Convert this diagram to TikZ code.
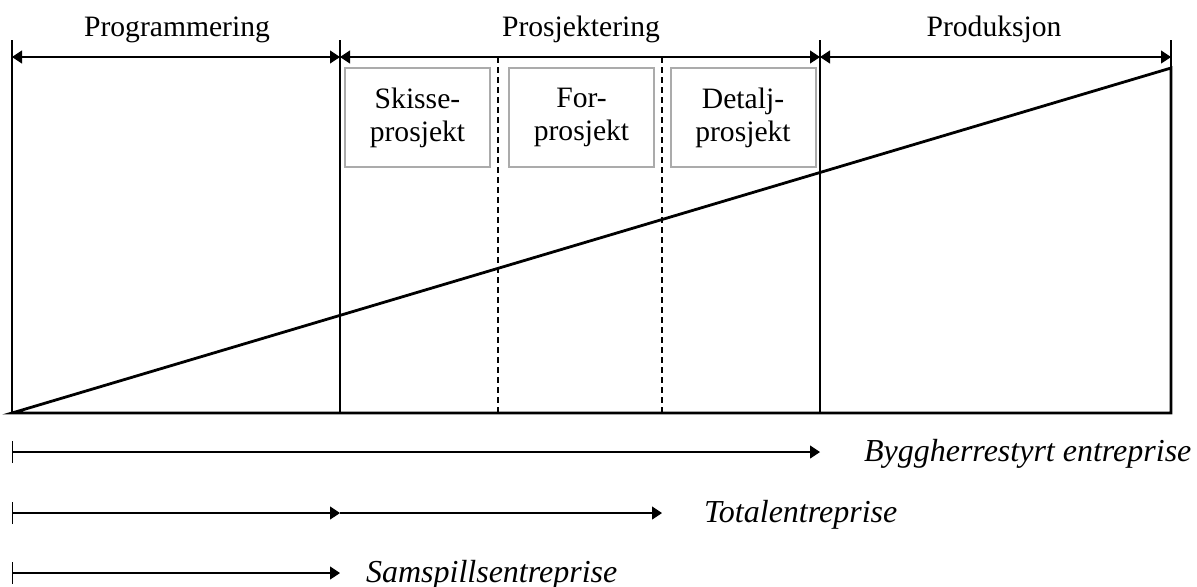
\documentclass[tikz,border=0pt]{standalone}
\usepackage{fontspec}
\setmainfont{Liberation Serif}
\usetikzlibrary{arrows.meta,positioning}
\definecolor{ink}{HTML}{000000}
\definecolor{boxgray}{HTML}{ABABAB}

\begin{document}
\begin{tikzpicture}[
  x=0.5pt, y=-0.5pt,
  font=\fontsize{14.8}{16.5}\selectfont,
  thin line/.style={draw=ink, line width=0.55pt},
  bold line/.style={draw=ink, line width=1.4pt, line join=miter},
  span/.style={thin line, {Triangle[length=5pt,width=6.5pt]}-{Triangle[length=5pt,width=6.5pt]}},
  route/.style={thin line, {Bar[width=11pt]}-{Triangle[length=5pt,width=6.5pt]}},
  phase/.style={draw=boxgray, line width=1pt, minimum width=72.5pt, minimum height=49.5pt,
    align=center, inner sep=0pt},
  heading/.style={anchor=base},
  model/.style={anchor=base west, font=\fontsize{16}{18}\selectfont\itshape}
]
  \useasboundingbox (0,0) rectangle (1197,586);

  % phase borders
  \foreach \n/\x in {o/12, p1/340, p2/820, e/1171} {
    \coordinate (\n-top) at (\x,40);
    \coordinate (\n) at (\x,413);
    \coordinate (\n-arr) at (\x,57);
  }
  \coordinate (d1-top) at (498,57);
  \coordinate (d1) at (498,413);
  \coordinate (d2-top) at (662,57);
  \coordinate (d2) at (662,413);
  \coordinate (peak) at (1171,68);

  \draw[thin line] (o-top) -- (o);
  \draw[thin line] (p1-top) -- (p1);
  \draw[thin line] (p2-top) -- (p2);
  \draw[thin line] (e-top) -- (e);
  \draw[thin line, dash pattern=on 3pt off 2pt] (d1-top) -- (d1);
  \draw[thin line, dash pattern=on 3pt off 2pt] (d2-top) -- (d2);
  \draw[bold line] (o) -- (e) -- (peak) -- cycle;

  % phases
  \draw[span] (o-arr) -- (p1-arr);
  \draw[span] (p1-arr) -- (p2-arr);
  \draw[span] (p2-arr) -- (e-arr);
  \node[heading] (prog) at (177,36) {Programmering};
  \node[heading] (prosj) at (581,36) {Prosjektering};
  \node[heading] (prod) at (994,36) {Produksjon};

  \node[phase] (skisse) at (417.5,117.5) {Skisse-\\prosjekt};
  \node[phase] (forpr) at (581.5,117.5) {For-\\prosjekt};
  \node[phase] (detalj) at (743,117.5) {Detalj-\\prosjekt};

  % contract models
  \coordinate (bh-s) at (12,452);
  \coordinate (bh-e) at (820,452);
  \coordinate (te-s) at (12,513);
  \coordinate (te-m) at (340,513);
  \coordinate (te-e) at (662,513);
  \coordinate (ss-s) at (12,573);
  \coordinate (ss-e) at (340,573);

  \draw[route] (bh-s) -- (bh-e);
  \draw[route] (te-s) -- (te-m);
  \draw[thin line, -{Triangle[length=5pt,width=6.5pt]}] (te-m) -- (te-e);
  \draw[route] (ss-s) -- (ss-e);

  \node[model] (bygg) at (857,461) {Byggherrestyrt entreprise};
  \node[model] (total) at (697,522) {Totalentreprise};
  \node[model] (samsp) at (359,582) {Samspillsentreprise};
\end{tikzpicture}
\end{document}
